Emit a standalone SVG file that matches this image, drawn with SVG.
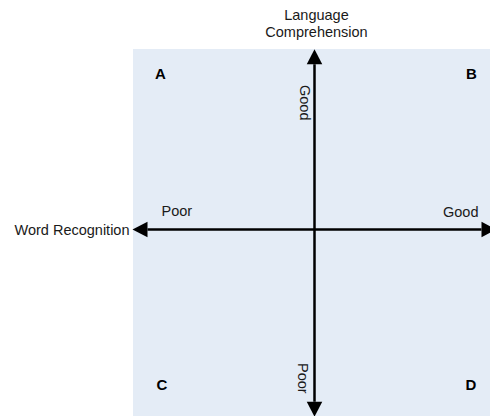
<svg xmlns="http://www.w3.org/2000/svg" width="490" height="416" viewBox="0 0 490 416">
  <style>
    .lbl { font-family: "Liberation Sans", Arial, sans-serif; font-size: 14.5px; fill: #1a1a1a; }
    .quad { font-family: "Liberation Sans", Arial, sans-serif; font-size: 15px; font-weight: bold; fill: #000; }
    .axis { stroke: #000; stroke-width: 2.5; fill: none; marker-start: url(#arrow); marker-end: url(#arrow); }
  </style>
  <defs>
    <marker id="arrow" markerUnits="userSpaceOnUse" markerWidth="16" markerHeight="16" viewBox="0 -8 16 16" refX="0" refY="0" orient="auto-start-reverse" overflow="visible">
      <path d="M0,-7.75 L15,0 L0,7.75 Z" fill="#000"/>
    </marker>
  </defs>

  <rect id="background" x="133" y="49" width="357" height="367" fill="#e4ecf6"/>

  <g id="connectors">
    <path id="axis-x" class="axis" d="M147.5,229.5 H481.5"/>
    <path id="axis-y" class="axis" d="M314.5,64.3 V401.7"/>
  </g>

  <g id="label-y-axis">
    <text class="lbl" x="316.5" y="20" text-anchor="middle">Language</text>
    <text class="lbl" x="316.5" y="37" text-anchor="middle">Comprehension</text>
  </g>
  <g id="label-x-axis">
    <text class="lbl" x="129.5" y="235" text-anchor="end">Word Recognition</text>
  </g>
  <g id="label-x-poor"><text class="lbl" x="161.5" y="216">Poor</text></g>
  <g id="label-x-good"><text class="lbl" x="443" y="216.5">Good</text></g>
  <g id="label-y-good"><text class="lbl" transform="translate(300,85) rotate(90)">Good</text></g>
  <g id="label-y-poor"><text class="lbl" transform="translate(297.5,363) rotate(90)">Poor</text></g>

  <g id="quadrant-a"><text class="quad" x="155" y="78.5">A</text></g>
  <g id="quadrant-b"><text class="quad" x="466" y="78.5">B</text></g>
  <g id="quadrant-c"><text class="quad" x="156.5" y="390">C</text></g>
  <g id="quadrant-d"><text class="quad" x="465.5" y="390">D</text></g>
</svg>
